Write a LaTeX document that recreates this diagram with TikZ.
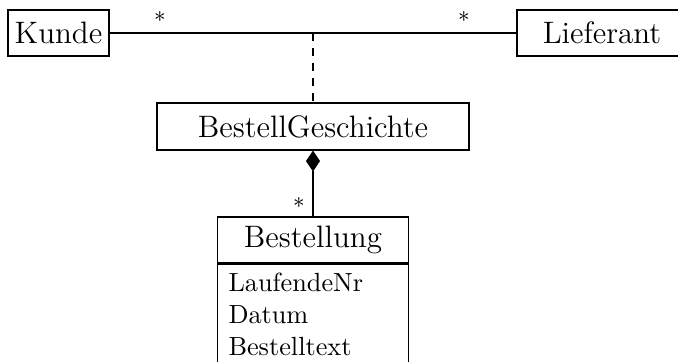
\documentclass[tikz,border=0pt]{standalone}
\usetikzlibrary{arrows.meta}
\begin{document}
\begin{tikzpicture}[x=0.4pt,y=-0.4pt,
  classbox/.style={draw,line width=0.45pt,inner sep=0pt,minimum height=18.4pt,font=\fontsize{12.4}{14.4}\selectfont},
  attrbox/.style={draw,line width=0.45pt,inner sep=0pt},
  attrtext/.style={anchor=base west,inner sep=0pt,font=\fontsize{10.5}{12.8}\selectfont},
  mult/.style={anchor=base,inner sep=0pt,font=\fontsize{9}{10.8}\selectfont},
  conn/.style={line width=0.45pt}]
\useasboundingbox (0,0) rectangle (678,361);
\node[classbox,minimum width=40.4pt] (k) at (58.5,33) {Kunde};
\node[classbox,minimum width=68pt] (l) at (602,33) {Lieferant};
\node[classbox,minimum width=124.8pt,minimum height=18.8pt] (bg) at (313,126.5) {BestellGeschichte};
\node[classbox,minimum width=76.4pt] (bs) at (313,240) {Bestellung};
\node[attrbox,minimum width=76.4pt,minimum height=48pt,anchor=north] (ba) at (bs.south) {};
\node[attrtext] (a1) at (228,291) {LaufendeNr};
\node[attrtext] (a2) at (228,323) {Datum};
\node[attrtext] (a3) at (228,355) {Bestelltext};
\draw[conn] (k) -- (l);
\coordinate (m) at (313,33);
\draw[conn,dashed] (m) -- (bg.north);
\draw[conn,{Diamond[length=8.4pt,width=5.6pt]}-] (bg.south) -- (bs.north);
\node[mult] (s1) at (160,28.5) {*};
\node[mult] (s2) at (464,28.5) {*};
\node[mult] (s3) at (299,214.5) {*};
\end{tikzpicture}
\end{document}
